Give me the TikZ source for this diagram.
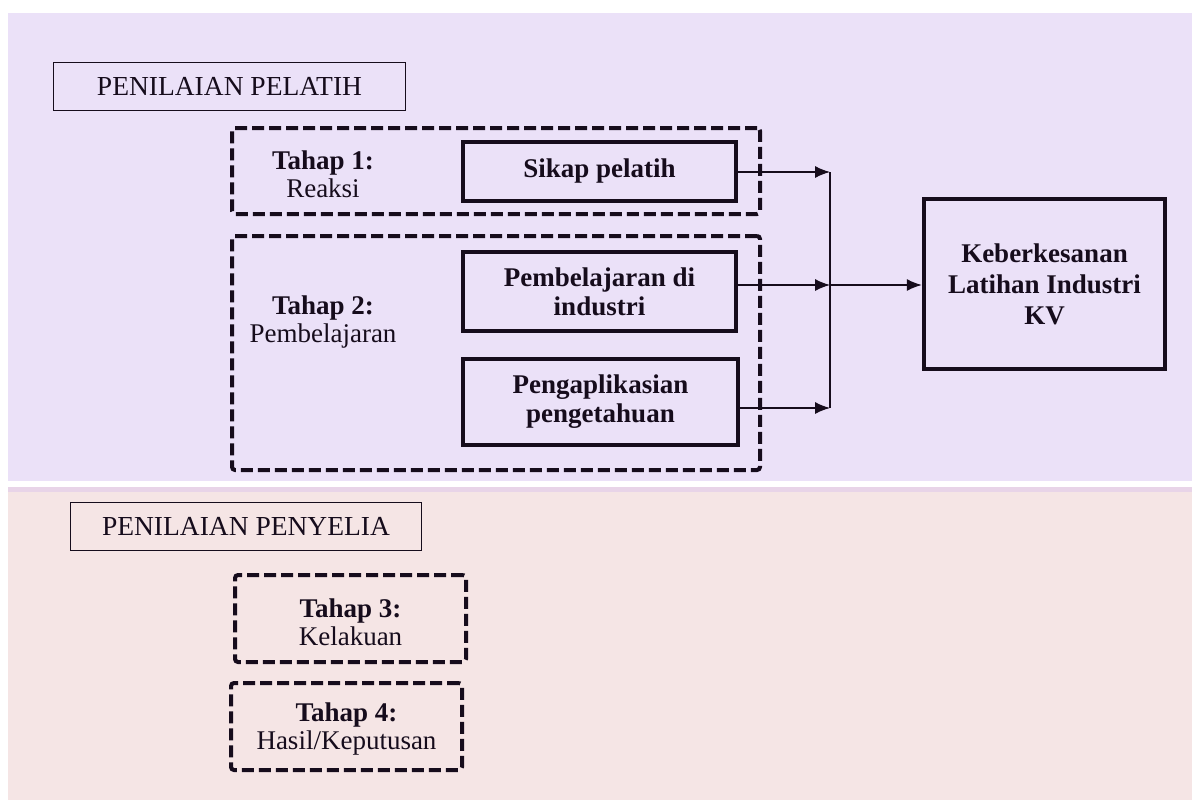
\documentclass[tikz,border=0pt]{standalone}
\usepackage{fontspec}
\setmainfont{Liberation Serif}
\usetikzlibrary{arrows.meta}
\definecolor{bgtop}{RGB}{235,225,248}
\definecolor{bgbot}{RGB}{245,229,229}
\definecolor{stripc}{RGB}{232,212,232}
\definecolor{ink}{RGB}{22,12,28}
\begin{document}
\begin{tikzpicture}[x=1pt,y=-1pt,
  titlebox/.style={draw=ink, line width=1.3pt, inner sep=0pt, text=ink, font=\fontsize{27.5}{29}\selectfont},
  dbox/.style={draw=ink, line width=4pt, dash pattern=on 12pt off 5pt, rounded corners=3pt, inner sep=0pt},
  sbox/.style={draw=ink, line width=4pt, align=center, inner sep=0pt, text=ink, font=\fontsize{27}{29}\selectfont\bfseries},
  kvbox/.style={draw=ink, line width=4.5pt, align=center, inner sep=0pt, text=ink, font=\fontsize{27}{31}\selectfont\bfseries},
  lbl/.style={align=center, inner sep=0pt, text=ink, font=\fontsize{27}{28}\selectfont},
  arr/.style={-{Latex[length=15pt,width=12pt]}, line width=1.3pt, draw=ink},
  conn/.style={line width=1.3pt, draw=ink}]
\useasboundingbox (0,0) rectangle (1192,800);
\fill[white] (0,0) rectangle (1192,800);
\fill[bgtop] (8,13) rectangle (1192,481);
\fill[bgbot] (8,487) rectangle (1192,800);
\fill[stripc] (8,487) rectangle (1192,492);

% top section
\node[titlebox, minimum width=352pt, minimum height=48pt] (pelatih) at (229.5,86.5) {PENILAIAN PELATIH};
\node[dbox, minimum width=528pt, minimum height=86pt] (t1box) at (496,171) {};
\node[dbox, minimum width=528pt, minimum height=234pt] (t2box) at (496,353) {};
\node[lbl] (t1lbl) at (323,174) {{\bfseries Tahap 1:}\\Reaksi};
\node[lbl] (t2lbl) at (323,322) {{\bfseries Tahap 2:}\\Pembelajaran};
\node[sbox, minimum width=273pt, minimum height=59pt] (sikap) at (599.5,171.5) {Sikap pelatih};
\node[sbox, minimum width=273pt, minimum height=79pt] (pemb) at (599.5,291.5) {Pembelajaran di\\industri};
\node[sbox, minimum width=275pt, minimum height=86pt] (peng) at (600.5,402) {Pengaplikasian\\pengetahuan};
\node[kvbox, minimum width=241pt, minimum height=170pt] (kv) at (1044.5,284) {Keberkesanan\\Latihan Industri\\KV};

\coordinate (j1) at (830,172);
\coordinate (j2) at (830,285);
\coordinate (j3) at (830,408);

\draw[arr] (sikap.east |- j1) -- (j1);
\draw[arr] (pemb.east |- j2) -- (j2);
\draw[arr] (peng.east |- j3) -- (j3);
\draw[conn] (j1) -- (j3);
\draw[arr] (j2) -- (j2 -| kv.west);

% bottom section
\node[titlebox, minimum width=351pt, minimum height=48pt] (penyelia) at (246,526.5) {PENILAIAN PENYELIA};
\node[dbox, minimum width=231pt, minimum height=87pt] (t3box) at (350.5,618.5) {};
\node[lbl] (t3lbl) at (350.5,622) {{\bfseries Tahap 3:}\\Kelakuan};
\node[dbox, minimum width=231pt, minimum height=87pt] (t4box) at (346.5,726.5) {};
\node[lbl] (t4lbl) at (346.5,729) {{\bfseries Tahap 4:}\\Hasil/Keputusan};
\end{tikzpicture}
\end{document}
